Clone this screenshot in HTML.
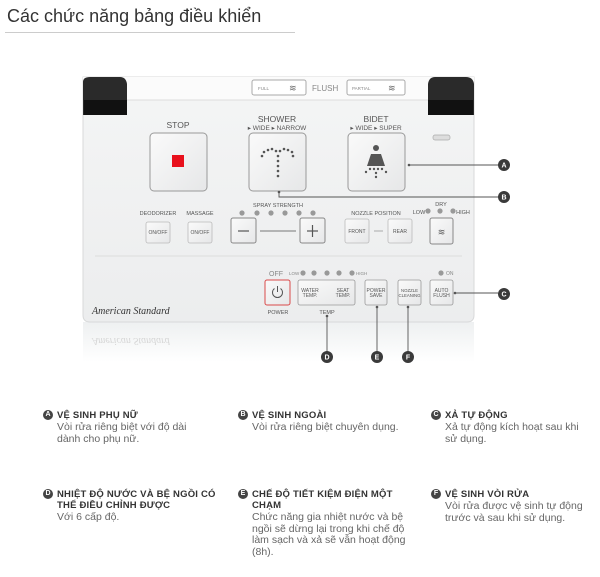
<!DOCTYPE html>
<html><head><meta charset="utf-8">
<style>
body{margin:0;width:600px;height:577px;background:#fff;position:relative;overflow:hidden;font-family:"Liberation Sans","Noto Sans CJK SC",sans-serif;}
.t{position:absolute;left:7px;top:6px;font-size:18px;color:#333;}
.ul{position:absolute;left:5px;top:32px;width:290px;height:1px;background:#ccc;}
.it{position:absolute;font-size:10.5px;line-height:11.5px;color:#666;width:155px;}
.it b{display:block;color:#333;font-size:9.5px;line-height:11px;letter-spacing:0.2px;margin-bottom:1px;}
.it .c{position:absolute;left:-14px;top:0;width:10px;height:10px;border-radius:50%;background:#444;color:#fff;font-size:7px;line-height:10px;text-align:center;font-weight:bold;}
</style></head><body>
<div class="t">Các chức năng bảng điều khiển</div>
<div class="ul"></div>
<svg width="600" height="400" style="position:absolute;left:0;top:0" font-family="Liberation Sans, sans-serif">
<defs>
<linearGradient id="bg" x1="0" y1="0" x2="0" y2="1"><stop offset="0" stop-color="#f4f5f5"/><stop offset="1" stop-color="#ecedee"/></linearGradient>
<linearGradient id="btn" x1="0" y1="0" x2="1" y2="1"><stop offset="0" stop-color="#fafafa"/><stop offset="1" stop-color="#e6e7e8"/></linearGradient>
<linearGradient id="refl" x1="0" y1="0" x2="0" y2="1"><stop offset="0" stop-color="#eef0f1"/><stop offset="1" stop-color="#fff"/></linearGradient>
</defs>
<rect x="83" y="322" width="391" height="40" fill="url(#refl)"/>
<text x="92" y="338" font-size="10" fill="#d6d6d6" font-style="italic" font-family="Liberation Serif" transform="scale(1,-1) translate(0,-676)">American Standard</text>
<path d="M83 77 H474 V315 Q474 322 467 322 H90 Q83 322 83 315 Z" fill="url(#bg)" stroke="#d8d9da"/>
<rect x="83" y="77" width="391" height="23" fill="#fbfbfb"/>
<line x1="83" y1="100" x2="474" y2="100" stroke="#dcdcdc"/>
<path d="M83 115 V82 Q83 77 90 77 H120 Q126 77 127 84 V115 Z" fill="#2a2a2a"/>
<rect x="84" y="100" width="43" height="15" fill="#111"/>
<path d="M428 115 V84 Q429 77 435 77 H466 Q473 77 474 84 V115 Z" fill="#2a2a2a"/>
<rect x="428" y="100" width="45" height="15" fill="#111"/>
<rect x="252" y="80" width="54" height="15" rx="2" fill="#fff" stroke="#aaa"/>
<text x="258" y="90" font-size="4.5" fill="#888">FULL</text>
<text x="289" y="91" font-size="9" fill="#666">≋</text>
<text x="312" y="91" font-size="8" fill="#888">FLUSH</text>
<rect x="347" y="80" width="58" height="15" rx="2" fill="#fff" stroke="#aaa"/>
<text x="352" y="90" font-size="4.5" fill="#888">PARTIAL</text>
<text x="388" y="91" font-size="9" fill="#666">≋</text>
<text x="178" y="128" font-size="8.5" fill="#555" text-anchor="middle">STOP</text>
<text x="277" y="122" font-size="8.5" fill="#555" text-anchor="middle">SHOWER</text>
<text x="277" y="130" font-size="6.5" fill="#555" text-anchor="middle">▸ WIDE  ▸ NARROW</text>
<text x="376" y="122" font-size="8.5" fill="#555" text-anchor="middle">BIDET</text>
<text x="376" y="130" font-size="6.5" fill="#555" text-anchor="middle">▸ WIDE  ▸ SUPER</text>
<rect x="433" y="135" width="17" height="5" rx="2" fill="#ddd" stroke="#aaa" stroke-width="0.7"/>
<rect x="150" y="133" width="57" height="58" rx="4" fill="url(#btn)" stroke="#999"/>
<rect x="172" y="155" width="12" height="12" fill="#e8101c"/>
<rect x="249" y="133" width="57" height="58" rx="4" fill="url(#btn)" stroke="#999"/>
<g fill="#555"><circle cx="262" cy="156" r="1.3"/><circle cx="264" cy="152" r="1.3"/><circle cx="268" cy="150" r="1.3"/><circle cx="272" cy="149" r="1.3"/><circle cx="276" cy="151" r="1.3"/><circle cx="280" cy="151" r="1.3"/><circle cx="284" cy="149" r="1.3"/><circle cx="288" cy="150" r="1.3"/><circle cx="292" cy="152" r="1.3"/><circle cx="293" cy="156" r="1.3"/><circle cx="278" cy="156" r="1.3"/><circle cx="278" cy="161" r="1.3"/><circle cx="278" cy="166" r="1.3"/><circle cx="278" cy="171" r="1.3"/><circle cx="278" cy="176" r="1.3"/></g>
<rect x="348" y="133" width="57" height="58" rx="4" fill="url(#btn)" stroke="#999"/>
<circle cx="376" cy="148" r="3" fill="#555"/><path d="M371 154 H381 L385 166 H367 Z" fill="#555"/>
<g fill="#555"><circle cx="366" cy="172" r="1.2"/><circle cx="370" cy="169" r="1.2"/><circle cx="374" cy="169" r="1.2"/><circle cx="378" cy="169" r="1.2"/><circle cx="382" cy="169" r="1.2"/><circle cx="386" cy="172" r="1.2"/><circle cx="376" cy="173" r="1.2"/><circle cx="376" cy="177" r="1.2"/></g>
<g font-size="5.5" fill="#555" text-anchor="middle"><text x="158" y="215">DEODORIZER</text><text x="200" y="215">MASSAGE</text><text x="278" y="207">SPRAY STRENGTH</text><text x="376" y="215">NOZZLE POSITION</text><text x="441" y="206">DRY</text><text x="419" y="214">LOW</text><text x="463" y="214">HIGH</text></g>
<g fill="#999"><circle cx="242" cy="213" r="2.6"/><circle cx="257" cy="213" r="2.6"/><circle cx="271" cy="213" r="2.6"/><circle cx="285" cy="213" r="2.6"/><circle cx="299" cy="213" r="2.6"/><circle cx="313" cy="213" r="2.6"/><circle cx="428" cy="211" r="2.6"/><circle cx="440" cy="211" r="2.6"/><circle cx="453" cy="211" r="2.6"/></g>
<g fill="url(#btn)" stroke="#bbb" stroke-width="0.8"><rect x="146" y="222" width="24" height="21" rx="2"/><rect x="188" y="222" width="24" height="21" rx="2"/><rect x="345" y="219" width="24" height="24" rx="2"/><rect x="388" y="219" width="24" height="24" rx="2"/></g>
<g font-size="5" fill="#555" text-anchor="middle"><text x="158" y="234">ON/OFF</text><text x="200" y="234">ON/OFF</text><text x="357" y="233">FRONT</text><text x="400" y="233">REAR</text></g>
<line x1="374" y1="231" x2="383" y2="231" stroke="#aaa"/>
<rect x="231" y="218" width="25" height="25" rx="2" fill="url(#btn)" stroke="#888"/>
<rect x="300" y="218" width="25" height="25" rx="2" fill="url(#btn)" stroke="#888"/>
<line x1="238" y1="231" x2="249" y2="231" stroke="#555" stroke-width="1.2"/>
<line x1="307" y1="231" x2="318" y2="231" stroke="#555" stroke-width="1.2"/><line x1="312.5" y1="225" x2="312.5" y2="237" stroke="#555" stroke-width="1.2"/>
<line x1="260" y1="231" x2="296" y2="231" stroke="#777"/>
<rect x="430" y="218" width="23" height="26" rx="2" fill="url(#btn)" stroke="#888"/>
<text x="441.5" y="235" font-size="9" fill="#555" text-anchor="middle">≋</text>
<line x1="95" y1="256" x2="462" y2="256" stroke="#dcdcdc"/>
<text x="269" y="276" font-size="7" fill="#888">OFF</text>
<text x="289" y="275" font-size="4.5" fill="#888">LOW</text>
<g fill="#999"><circle cx="303" cy="273" r="2.6"/><circle cx="314" cy="273" r="2.6"/><circle cx="327" cy="273" r="2.6"/><circle cx="339" cy="273" r="2.6"/><circle cx="352" cy="273" r="2.6"/><circle cx="441" cy="273" r="2.6"/></g>
<text x="356" y="275" font-size="4.5" fill="#888">HIGH</text>
<text x="446" y="275" font-size="5" fill="#888">ON</text>
<rect x="265" y="280" width="25" height="25" rx="2" fill="url(#btn)" stroke="#d94a4a"/>
<path d="M274.5 288.5 A5 5 0 1 0 280.5 288.5" fill="none" stroke="#555" stroke-width="1"/><line x1="277.5" y1="286" x2="277.5" y2="292" stroke="#555"/>
<g fill="url(#btn)" stroke="#999" stroke-width="0.8"><rect x="298" y="280" width="57" height="25" rx="2"/><rect x="365" y="280" width="22" height="25" rx="2"/><rect x="398" y="280" width="23" height="25" rx="2"/><rect x="430" y="280" width="23" height="25" rx="2"/></g>
<g font-size="5" fill="#555" text-anchor="middle"><text x="310" y="292">WATER</text><text x="310" y="297">TEMP.</text><text x="343" y="292">SEAT</text><text x="343" y="297">TEMP.</text><text x="376" y="292">POWER</text><text x="376" y="297">SAVE</text><text x="409.5" y="292" font-size="4.3">NOZZLE</text><text x="409.5" y="297" font-size="4.3">CLEANING</text><text x="441.5" y="292">AUTO</text><text x="441.5" y="297">FLUSH</text></g>
<g font-size="5.5" fill="#555" text-anchor="middle"><text x="278" y="314">POWER</text><text x="327" y="314">TEMP</text></g>
<text x="92" y="314" font-size="10" fill="#333" font-style="italic" font-family="Liberation Serif">American Standard</text>
<g stroke="#555" stroke-width="0.9" fill="none">
<polyline points="409,165 498,165"/><polyline points="279,192 279,197 498,197"/><polyline points="455,293 498,293"/>
<polyline points="327,316 327,352"/><polyline points="377,307 377,352"/><polyline points="408,307 408,352"/>
</g>
<g fill="#555"><circle cx="409" cy="165" r="1.3"/><circle cx="279" cy="192" r="1.3"/><circle cx="455" cy="293" r="1.3"/><circle cx="327" cy="316" r="1.3"/><circle cx="377" cy="307" r="1.3"/><circle cx="408" cy="307" r="1.3"/></g>
<g fill="#3a3a3a"><circle cx="504" cy="165" r="6"/><circle cx="504" cy="197" r="6"/><circle cx="504" cy="294" r="6"/><circle cx="327" cy="357" r="6"/><circle cx="377" cy="357" r="6"/><circle cx="408" cy="357" r="6"/></g>
<g fill="#fff" font-size="7" font-weight="bold" text-anchor="middle"><text x="504" y="167.5">A</text><text x="504" y="199.5">B</text><text x="504" y="296.5">C</text><text x="327" y="359.5">D</text><text x="377" y="359.5">E</text><text x="408" y="359.5">F</text></g>
</svg>
<div class="it" style="left:57px;top:410px;width:140px"><span class="c">A</span><b>VỆ SINH PHỤ NỮ</b>Vòi rửa riêng biệt với độ dài dành cho phụ nữ.</div>
<div class="it" style="left:252px;top:410px;width:170px"><span class="c">B</span><b>VỆ SINH NGOÀI</b>Vòi rửa riêng biệt chuyên dụng.</div>
<div class="it" style="left:445px;top:410px;width:142px"><span class="c">C</span><b>XẢ TỰ ĐỘNG</b>Xả tự động kích hoạt sau khi sử dụng.</div>
<div class="it" style="left:57px;top:489px;width:160px"><span class="c">D</span><b>NHIỆT ĐỘ NƯỚC VÀ BỆ NGỒI CÓ THỂ ĐIỀU CHỈNH ĐƯỢC</b>Với 6 cấp độ.</div>
<div class="it" style="left:252px;top:489px;width:155px"><span class="c">E</span><b>CHẾ ĐỘ TIẾT KIỆM ĐIỆN MỘT CHẠM</b>Chức năng gia nhiệt nước và bệ ngồi sẽ dừng lại trong khi chế độ làm sạch và xả sẽ vẫn hoạt động (8h).</div>
<div class="it" style="left:445px;top:489px;width:145px"><span class="c">F</span><b>VỆ SINH VÒI RỬA</b>Vòi rửa được vệ sinh tự động trước và sau khi sử dụng.</div>
</body></html>
